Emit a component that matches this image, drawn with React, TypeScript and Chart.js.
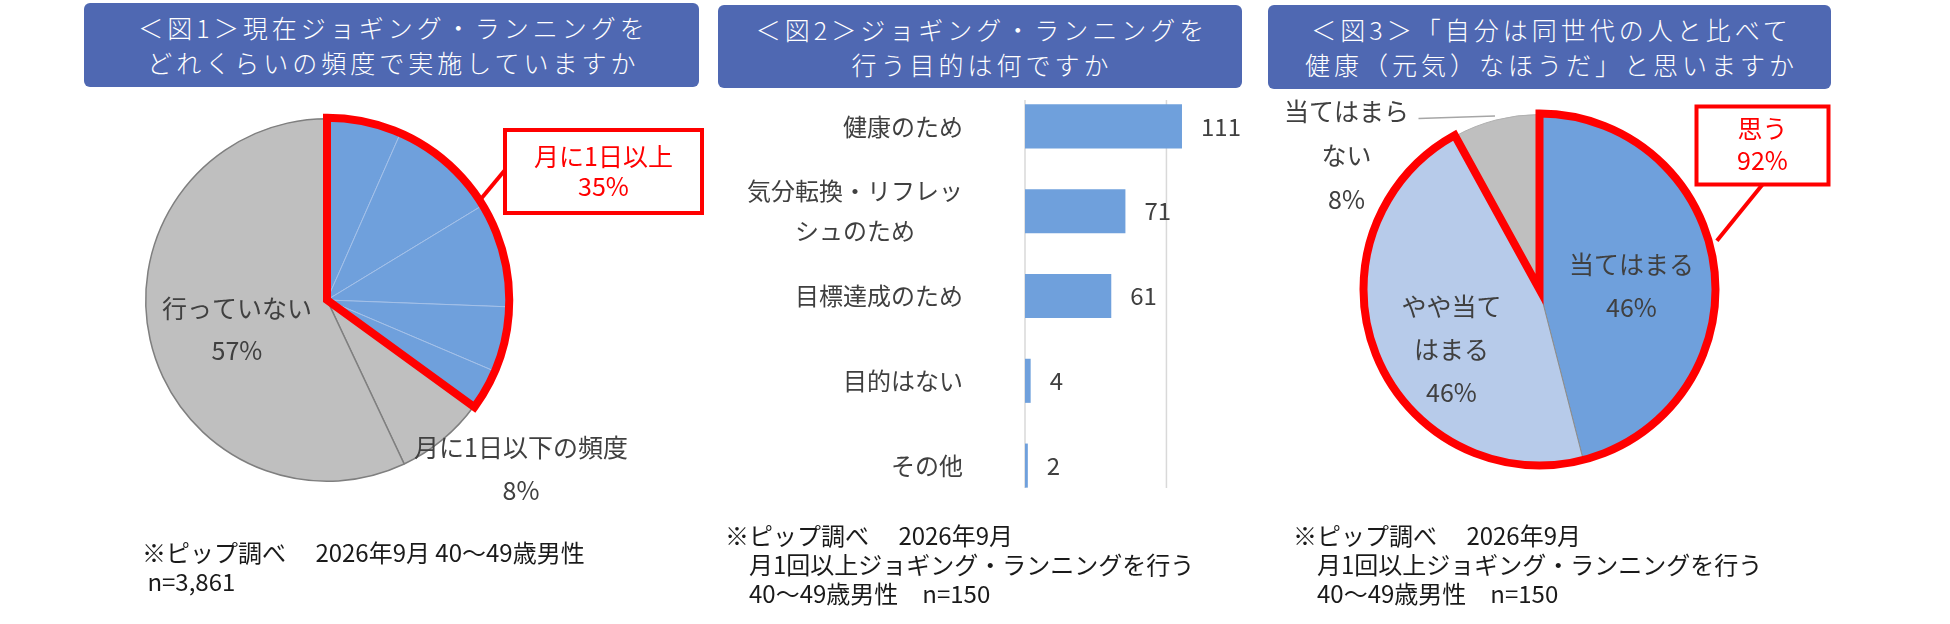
import React, { useEffect, useRef } from "react";
import { Chart, registerables } from "chart.js";

Chart.register(...registerables);

const FONT_FAMILY = '"Noto Sans CJK JP", "Noto Sans", sans-serif';
const TEXT_COLOR = "#404040";
const NOTE_COLOR = "#1a1a1a";
const RED = "#FF0000";
const BLUE = "#6FA0DC";
const LIGHT_BLUE = "#B7CBEA";
const GRAY = "#BFBFBF";
const TITLE_BG = "#4F68B2";

// ---------------- Figure 1 ----------------
const fig1Title = ["＜図1＞現在ジョギング・ランニングを", "どれくらいの頻度で実施していますか"];
const fig1Categories = [
  "月に1日以上（内訳1）",
  "月に1日以上（内訳2）",
  "月に1日以上（内訳3）",
  "月に1日以上（内訳4）",
  "月に1日以上（内訳5）",
  "月に1日以下の頻度",
  "行っていない",
];
const fig1Values = [6.6, 9.7, 9.3, 5.8, 3.6, 8, 57];
const fig1GroupName = "月に1日以上";
const fig1GroupCount = 5;
const fig1Note = ["※ピップ調べ　 2026年9月 40～49歳男性", " n=3,861"];

// ---------------- Figure 2 ----------------
const fig2Title = ["＜図2＞ジョギング・ランニングを", "行う目的は何ですか"];
const fig2Categories = ["健康のため", "気分転換・リフレッシュのため", "目標達成のため", "目的はない", "その他"];
const fig2CategoryLines = [["健康のため"], ["気分転換・リフレッ", "シュのため"], ["目標達成のため"], ["目的はない"], ["その他"]];
const fig2Values = [111, 71, 61, 4, 2];
const fig2AxisMax = 140;
const fig2GridValues = [0, 100];
const fig2Note = ["※ピップ調べ　 2026年9月", "　月1回以上ジョギング・ランニングを行う", "　40～49歳男性　n=150"];

// ---------------- Figure 3 ----------------
const fig3Title = ["＜図3＞「自分は同世代の人と比べて", "健康（元気）なほうだ」と思いますか"];
const fig3Categories = ["当てはまる", "やや当てはまる", "当てはまらない"];
const fig3LabelLines = [["当てはまる"], ["やや当て", "はまる"], ["当てはまら", "ない"]];
const fig3Values = [46, 46, 8];
const fig3GroupName = "思う";
const fig3GroupCount = 2;
const fig3Note = ["※ピップ調べ　 2026年9月", "　月1回以上ジョギング・ランニングを行う", "　40～49歳男性　n=150"];

const fig1LabelLines = [[], [], [], [], [], ["月に1日以下の頻度"], ["行っていない"]];

const pct = (v: number) => `${Math.round(v)}%`;
const sum = (a: number[]) => a.reduce((s, v) => s + v, 0);
const LABEL_FONT = `25px ${FONT_FAMILY}`;

type PieDecor = {
  values: number[];
  labelLines: string[][];
  groupCount: number;
  groupName: string;
  outlineGrow: number;
  labels: { index: number; dx: number; dy: number; gap: number }[];
  callout: {
    dx: number; dy: number; w: number; h: number;
    textDy: number[];
    sx: number; sy: number;
    anchorDeg: number; anchorGrow: number;
  };
  leader?: { index: number; sx: number; sy: number; grow: number };
};

function makePiePlugin(d: PieDecor) {
  return {
    id: "pieDecor",
    afterDatasetsDraw(chart: any) {
      const ctx = chart.ctx as CanvasRenderingContext2D;
      const arcs = chart.getDatasetMeta(0).data as any[];
      const a0 = arcs[0];
      const cx = a0.x, cy = a0.y, r = a0.outerRadius;
      const gStart = a0.startAngle;
      const gEnd = arcs[d.groupCount - 1].endAngle;
      ctx.save();
      // leader line
      if (d.leader) {
        const a = arcs[d.leader.index];
        const mid = (a.startAngle + a.endAngle) / 2;
        ctx.beginPath();
        ctx.moveTo(cx + d.leader.sx, cy + d.leader.sy);
        ctx.lineTo(cx + (r + d.leader.grow) * Math.cos(mid), cy + (r + d.leader.grow) * Math.sin(mid));
        ctx.strokeStyle = "#A6A6A6";
        ctx.lineWidth = 1.5;
        ctx.stroke();
      }
      // red outline of the group
      ctx.beginPath();
      ctx.moveTo(cx, cy);
      ctx.arc(cx, cy, r + d.outlineGrow, gStart, gEnd);
      ctx.closePath();
      ctx.strokeStyle = RED;
      ctx.lineWidth = 8;
      ctx.lineJoin = "miter";
      ctx.miterLimit = 10;
      ctx.stroke();
      // slice labels
      ctx.font = LABEL_FONT;
      ctx.fillStyle = TEXT_COLOR;
      ctx.textAlign = "center";
      ctx.textBaseline = "middle";
      for (const lab of d.labels) {
        const lines = [...d.labelLines[lab.index], pct(d.values[lab.index])];
        lines.forEach((t, j) => ctx.fillText(t, cx + lab.dx, cy + lab.dy + j * lab.gap));
      }
      // callout
      const c = d.callout;
      const bx = cx + c.dx, by = cy + c.dy;
      const ang = gStart + (c.anchorDeg * Math.PI) / 180;
      ctx.beginPath();
      ctx.moveTo(bx + c.sx, by + c.sy);
      ctx.lineTo(cx + (r + c.anchorGrow) * Math.cos(ang), cy + (r + c.anchorGrow) * Math.sin(ang));
      ctx.strokeStyle = RED;
      ctx.lineWidth = 4;
      ctx.stroke();
      ctx.fillStyle = "#FFFFFF";
      ctx.fillRect(bx, by, c.w, c.h);
      ctx.lineWidth = 4;
      ctx.strokeRect(bx, by, c.w, c.h);
      ctx.fillStyle = RED;
      const gTxt = [d.groupName, pct(sum(d.values.slice(0, d.groupCount)))];
      gTxt.forEach((t, j) => ctx.fillText(t, bx + c.w / 2, by + c.h / 2 + c.textDy[j]));
      ctx.restore();
    },
  };
}

function PieCanvas(props: {
  left: number; top: number; width: number; height: number;
  padding: { left: number; right: number; top: number; bottom: number };
  labels: string[]; values: number[]; colors: string[]; borderColors: string[]; borderWidths: number[];
  decor: PieDecor;
}) {
  const ref = useRef<HTMLCanvasElement>(null);
  useEffect(() => {
    const chart = new Chart(ref.current!, {
      type: "pie",
      data: {
        labels: props.labels,
        datasets: [
          {
            data: props.values,
            backgroundColor: props.colors,
            borderColor: props.borderColors,
            borderWidth: props.borderWidths,
            hoverOffset: 0,
            offset: 0,
          } as any,
        ],
      },
      options: {
        responsive: false,
        animation: false,
        devicePixelRatio: 1,
        events: [],
        layout: { padding: props.padding },
        plugins: { legend: { display: false }, tooltip: { enabled: false } },
      },
      plugins: [makePiePlugin(props.decor)],
    });
    return () => chart.destroy();
  }, []);
  return (
    <canvas
      ref={ref}
      width={props.width}
      height={props.height}
      style={{ position: "absolute", left: props.left, top: props.top, width: props.width, height: props.height }}
    />
  );
}

function BarCanvas() {
  const ref = useRef<HTMLCanvasElement>(null);
  useEffect(() => {
    const decor = {
      id: "barDecor",
      beforeDatasetsDraw(chart: any) {
        const ctx = chart.ctx as CanvasRenderingContext2D;
        const xs = chart.scales.x;
        const area = chart.chartArea;
        ctx.save();
        ctx.strokeStyle = "#D9D9D9";
        ctx.lineWidth = 1.5;
        for (const v of fig2GridValues) {
          const px = xs.getPixelForValue(v);
          ctx.beginPath();
          ctx.moveTo(px, area.top + 16);
          ctx.lineTo(px, area.bottom - 20);
          ctx.stroke();
        }
        ctx.restore();
      },
      afterDatasetsDraw(chart: any) {
        const ctx = chart.ctx as CanvasRenderingContext2D;
        const ys = chart.scales.y;
        const area = chart.chartArea;
        ctx.save();
        ctx.font = `24px ${FONT_FAMILY}`;
        ctx.fillStyle = TEXT_COLOR;
        ctx.textBaseline = "middle";
        // category labels
        ctx.textAlign = "center";
        fig2CategoryLines.forEach((lines, i) => {
          const yc = ys.getPixelForValue(i);
          const maxW = Math.max(...lines.map((t) => ctx.measureText(t).width));
          const xc = area.left - 62 - maxW / 2;
          lines.forEach((t, j) => ctx.fillText(t, xc, yc + (j - (lines.length - 1) / 2) * 40));
        });
        // value labels
        ctx.textAlign = "left";
        const bars = chart.getDatasetMeta(0).data as any[];
        bars.forEach((b, i) => ctx.fillText(String(fig2Values[i]), b.x + 19, b.y));
        ctx.restore();
      },
    };
    const chart = new Chart(ref.current!, {
      type: "bar",
      data: {
        labels: fig2Categories,
        datasets: [
          {
            data: fig2Values,
            backgroundColor: BLUE,
            borderWidth: 0,
            barPercentage: 0.52,
            categoryPercentage: 1,
          },
        ],
      },
      options: {
        indexAxis: "y",
        responsive: false,
        animation: false,
        devicePixelRatio: 1,
        events: [],
        layout: { padding: { left: 315, right: 37, top: 84, bottom: 116 } },
        scales: {
          x: { display: false, min: 0, max: fig2AxisMax },
          y: { display: false },
        },
        plugins: { legend: { display: false }, tooltip: { enabled: false } },
      },
      plugins: [decor],
    });
    return () => chart.destroy();
  }, []);
  return (
    <canvas ref={ref} width={550} height={624} style={{ position: "absolute", left: 710, top: 0, width: 550, height: 624 }} />
  );
}

function TitleBox(props: { left: number; top: number; width: number; height: number; lines: string[] }) {
  return (
    <div
      style={{
        position: "absolute",
        left: props.left,
        top: props.top,
        width: props.width,
        height: props.height,
        background: TITLE_BG,
        borderRadius: 6,
        color: "#FFFFFF",
        display: "flex",
        flexDirection: "column",
        justifyContent: "center",
        alignItems: "center",
        fontSize: 25,
        fontWeight: 300,
        letterSpacing: "4px",
        lineHeight: "35px",
        whiteSpace: "nowrap",
        paddingLeft: 4,
        boxSizing: "border-box",
      }}
    >
      {props.lines.map((t, i) => (
        <div key={i}>{t}</div>
      ))}
    </div>
  );
}

function Note(props: { left: number; top: number; lines: string[] }) {
  return (
    <div
      style={{
        position: "absolute",
        left: props.left,
        top: props.top,
        fontSize: 24,
        lineHeight: "29px",
        color: NOTE_COLOR,
        whiteSpace: "pre",
      }}
    >
      {props.lines.map((t, i) => (
        <div key={i}>{t}</div>
      ))}
    </div>
  );
}

const fig1Decor: PieDecor = {
  values: fig1Values,
  labelLines: fig1LabelLines,
  groupCount: fig1GroupCount,
  groupName: fig1GroupName,
  outlineGrow: 1,
  labels: [
    { index: 6, dx: -90, dy: 8, gap: 42 },
    { index: 5, dx: 194, dy: 147, gap: 43 },
  ],
  callout: { dx: 178, dy: -170, w: 197, h: 83, textDy: [-15, 15], sx: 0, sy: 40, anchorDeg: 57, anchorGrow: 0 },
};

const fig3Decor: PieDecor = {
  values: fig3Values,
  labelLines: fig3LabelLines,
  groupCount: fig3GroupCount,
  groupName: fig3GroupName,
  outlineGrow: 1,
  labels: [
    { index: 0, dx: 92, dy: -25, gap: 43 },
    { index: 1, dx: -88, dy: 17, gap: 43 },
    { index: 2, dx: -193, dy: -178, gap: 44 },
  ],
  callout: { dx: 157, dy: -183, w: 132, h: 78, textDy: [-17, 15], sx: 66, sy: 78, anchorDeg: 74.6, anchorGrow: 9 },
  leader: { index: 2, sx: -121, sy: -171, grow: 4 },
};

export default function App() {
  useEffect(() => {
    document.body.style.margin = "0";
  }, []);
  return (
    <div
      style={{
        position: "absolute",
        left: 0,
        top: 0,
        width: 1950,
        height: 624,
        background: "#FFFFFF",
        overflow: "hidden",
        fontFamily: FONT_FAMILY,
      }}
    >
      <PieCanvas
        left={0}
        top={0}
        width={710}
        height={624}
        padding={{ left: 145, right: 201, top: 118, bottom: 142 }}
        labels={fig1Categories}
        values={fig1Values}
        colors={[BLUE, BLUE, BLUE, BLUE, BLUE, GRAY, GRAY]}
        borderColors={["#A3C0E8", "#A3C0E8", "#A3C0E8", "#A3C0E8", "#A3C0E8", "#7F7F7F", "#7F7F7F"]}
        borderWidths={[1, 1, 1, 1, 1, 1.5, 1.5]}
        decor={fig1Decor}
      />
      <BarCanvas />
      <PieCanvas
        left={1260}
        top={0}
        width={690}
        height={624}
        padding={{ left: 104, right: 235, top: 114, bottom: 159 }}
        labels={fig3Categories}
        values={fig3Values}
        colors={[BLUE, LIGHT_BLUE, GRAY]}
        borderColors={["#8C8C8C", "#8C8C8C", "#B0B0B0"]}
        borderWidths={[1, 1, 1]}
        decor={fig3Decor}
      />
      <TitleBox left={84} top={3} width={615} height={84} lines={fig1Title} />
      <TitleBox left={718} top={5} width={524} height={83} lines={fig2Title} />
      <TitleBox left={1268} top={5} width={563} height={84} lines={fig3Title} />
      <Note left={142} top={537} lines={fig1Note} />
      <Note left={725} top={520} lines={fig2Note} />
      <Note left={1293} top={520} lines={fig3Note} />
    </div>
  );
}
